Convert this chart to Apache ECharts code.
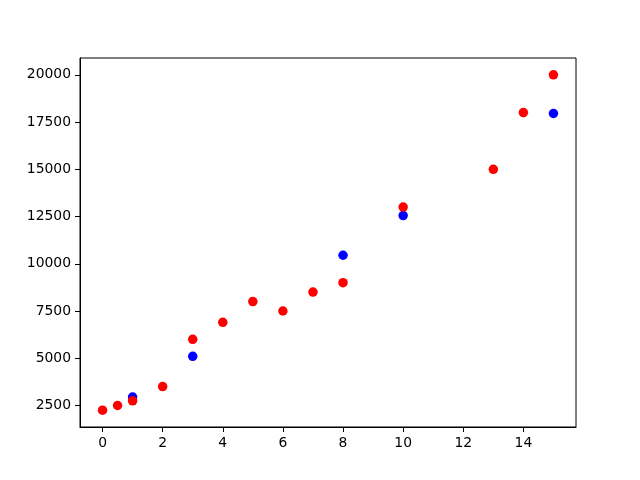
<!DOCTYPE html>
<html>
<head>
<meta charset="utf-8">
<script src="https://cdn.jsdelivr.net/npm/echarts@6/dist/echarts.min.js"></script>
<style>html,body{margin:0;padding:0;background:#fff}#c{width:640px;height:480px}</style>
</head>
<body>
<div id="c"></div>
<script>
var blueX = [1, 3, 8, 10, 15];
var blueY = [2950, 5100, 10450, 12550, 17950];
var redX = [0, 0.5, 1, 2, 3, 4, 5, 6, 7, 8, 10, 13, 14, 15];
var redY = [2250, 2500, 2750, 3500, 6000, 6900, 8000, 7500, 8500, 9000, 13000, 15000, 18000, 20000];
var xTicks = [0, 2, 4, 6, 8, 10, 12, 14];
var yTicks = [2500, 5000, 7500, 10000, 12500, 15000, 17500, 20000];

function pairs(xs, ys) { return xs.map(function (x, i) { return [x, ys[i]]; }); }

var font = 'DejaVu Sans';
var chart = echarts.init(document.getElementById('c'), null, { renderer: 'canvas' });
chart.setOption({
  animation: false,
  backgroundColor: '#fff',
  grid: { left: 80, right: 64, top: 58, bottom: 53, show: true, borderColor: '#000', borderWidth: 1, backgroundColor: 'transparent' },
  xAxis: {
    type: 'value', min: -0.75, max: 15.75,
    axisLine: { show: true, onZero: false, lineStyle: { color: '#000', width: 1 } },
    axisTick: { show: true, inside: false, length: 5, customValues: xTicks, lineStyle: { color: '#000' } },
    axisLabel: { customValues: xTicks, margin: 9, color: '#000', fontFamily: font, fontSize: 13.9 },
    splitLine: { show: false }
  },
  yAxis: {
    type: 'value', min: 1362.5, max: 20887.5,
    axisLine: { show: true, onZero: false, lineStyle: { color: '#000', width: 1 } },
    axisTick: { show: true, inside: false, length: 5, customValues: yTicks, lineStyle: { color: '#000' } },
    axisLabel: { customValues: yTicks, margin: 9, color: '#000', fontFamily: font, fontSize: 13.9,
      formatter: function (v) { return String(v); } },
    splitLine: { show: false }
  },
  series: [
    { type: 'scatter', data: pairs(blueX, blueY), symbol: 'circle', symbolSize: 9.5, itemStyle: { color: '#0000ff', opacity: 1 } },
    { type: 'scatter', data: pairs(redX, redY), symbol: 'circle', symbolSize: 9.5, itemStyle: { color: '#ff0000', opacity: 1 } }
  ]
});
</script>
</body>
</html>
